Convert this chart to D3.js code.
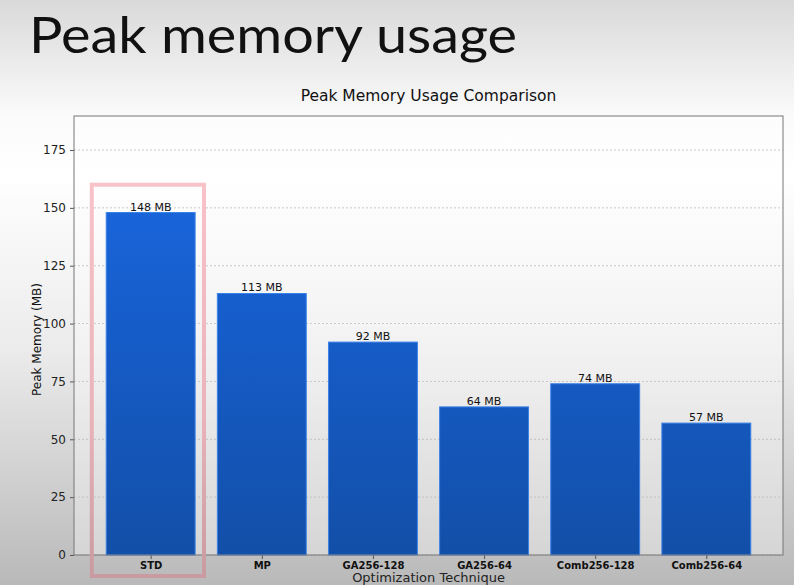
<!DOCTYPE html>
<html><head><meta charset="utf-8">
<script src="https://cdn.jsdelivr.net/npm/d3@7"></script>
<style>html,body{margin:0;padding:0;overflow:hidden;}svg{display:block;}</style>
</head><body>
<script>
const categories = ["STD","MP","GA256-128","GA256-64","Comb256-128","Comb256-64"];
const values = [148,113,92,64,74,57];
const valueLabels = ["148 MB","113 MB","92 MB","64 MB","74 MB","57 MB"];
const yTicks = [0,25,50,75,100,125,150,175];
const slideTitle = "Peak memory usage";
const chartTitle = "Peak Memory Usage Comparison";
const xTitle = "Optimization Technique";
const yTitle = "Peak Memory (MB)";
const highlighted = "STD";

const W=794,H=585;
const svg=d3.select("body").append("svg").attr("width",W).attr("height",H);
const defs=svg.append("defs");
const bg=defs.append("linearGradient").attr("id","bg").attr("x1",0).attr("y1",0).attr("x2",0).attr("y2",1);
[[0,"#d9d9d9"],[0.2,"#fbfbfb"],[0.3,"#ffffff"],[0.6,"#ebebeb"],[1,"#b9b9b9"]].forEach(s=>bg.append("stop").attr("offset",s[0]).attr("stop-color",s[1]));
const bar=defs.append("linearGradient").attr("id","bar").attr("gradientUnits","userSpaceOnUse").attr("x1",0).attr("y1",116).attr("x2",0).attr("y2",555);
[[0,"#1a6ae6"],[0.5,"#165cc8"],[1,"#124fa8"]].forEach(s=>bar.append("stop").attr("offset",s[0]).attr("stop-color",s[1]));
const rg=defs.append("linearGradient").attr("id","rg").attr("gradientUnits","userSpaceOnUse").attr("x1",0).attr("y1",184).attr("x2",0).attr("y2",576);
[[0,"#f7c2c8"],[0.6,"#e8b3b9"],[1,"#c99aa0"]].forEach(s=>rg.append("stop").attr("offset",s[0]).attr("stop-color",s[1]));

svg.append("rect").attr("width",W).attr("height",H).attr("fill","url(#bg)");

svg.append("text").attr("x",29).attr("y",53).attr("font-family","Lato, 'Open Sans', sans-serif").attr("font-weight",400)
  .attr("font-size",51).attr("fill","#111").attr("textLength",488).attr("lengthAdjust","spacingAndGlyphs").text(slideTitle);

const L=74,R=783,T=116,B=555;
const x=d3.scaleLinear().domain([-0.69,5.69]).range([L,R]);
const y=d3.scaleLinear().domain([0,189.7]).range([B,T]);
const bw=x(0.4)-x(-0.4);

svg.append("rect").attr("x",L).attr("y",T).attr("width",R-L).attr("height",B-T).attr("fill","#ffffff").attr("fill-opacity",0.35);

svg.append("g").selectAll("line").data(yTicks).join("line")
  .attr("x1",L).attr("x2",R).attr("y1",d=>y(d)).attr("y2",d=>y(d))
  .attr("stroke","#b0b0b0").attr("stroke-width",0.8).attr("stroke-dasharray","2,2").attr("opacity",0.8);

svg.append("g").selectAll("rect").data(values).join("rect")
  .attr("x",(d,i)=>x(i)-bw/2).attr("y",d=>y(d)).attr("width",bw).attr("height",d=>B-y(d))
  .attr("fill","url(#bar)").attr("stroke","#3b82e8").attr("stroke-width",1);

svg.append("g").selectAll("text").data(values).join("text")
  .attr("x",(d,i)=>x(i)).attr("y",d=>y(d)-2).attr("text-anchor","middle")
  .attr("font-family","DejaVu Sans").attr("font-size",11).attr("fill","#111")
  .text((d,i)=>valueLabels[i]);

const yAxis=d3.axisLeft(y).tickValues(yTicks).tickSize(4).tickPadding(4);
const ga=svg.append("g").attr("transform",`translate(${L},0)`).call(yAxis);
ga.select(".domain").remove();
ga.selectAll("line").attr("stroke","#555");
ga.selectAll("text").attr("font-family","DejaVu Sans").attr("font-size",12).attr("fill","#222");

const xAxis=d3.axisBottom(x).tickValues(d3.range(categories.length)).tickFormat(i=>categories[i]).tickSize(4).tickPadding(3);
const gx=svg.append("g").attr("transform",`translate(0,${B})`).call(xAxis);
gx.select(".domain").remove();
gx.selectAll("line").attr("stroke","#555");
gx.selectAll("text").attr("font-family","DejaVu Sans").attr("font-size",10).attr("font-weight","bold").attr("fill","#111");

svg.append("rect").attr("x",L).attr("y",T).attr("width",R-L).attr("height",B-T)
  .attr("fill","none").attr("stroke","#777").attr("stroke-width",1);

const hi=categories.indexOf(highlighted);
const bx0=x(hi-0.53), bx1=x(hi+0.48);
svg.append("rect").attr("x",bx0).attr("y",y(160)).attr("width",bx1-bx0).attr("height",576-y(160))
  .attr("fill","none").attr("stroke","url(#rg)").attr("stroke-width",4);

svg.append("text").attr("x",(L+R)/2).attr("y",101).attr("text-anchor","middle")
  .attr("font-family","DejaVu Sans").attr("font-size",15.5).attr("fill","#111").text(chartTitle);
svg.append("text").attr("x",(L+R)/2).attr("y",582).attr("text-anchor","middle")
  .attr("font-family","DejaVu Sans").attr("font-size",13).attr("fill","#222").text(xTitle);
svg.append("text").attr("transform",`translate(41,${(T+B)/2+4}) rotate(-90)`).attr("text-anchor","middle")
  .attr("font-family","DejaVu Sans").attr("font-size",12).attr("fill","#111").text(yTitle);
</script>
</body></html>
